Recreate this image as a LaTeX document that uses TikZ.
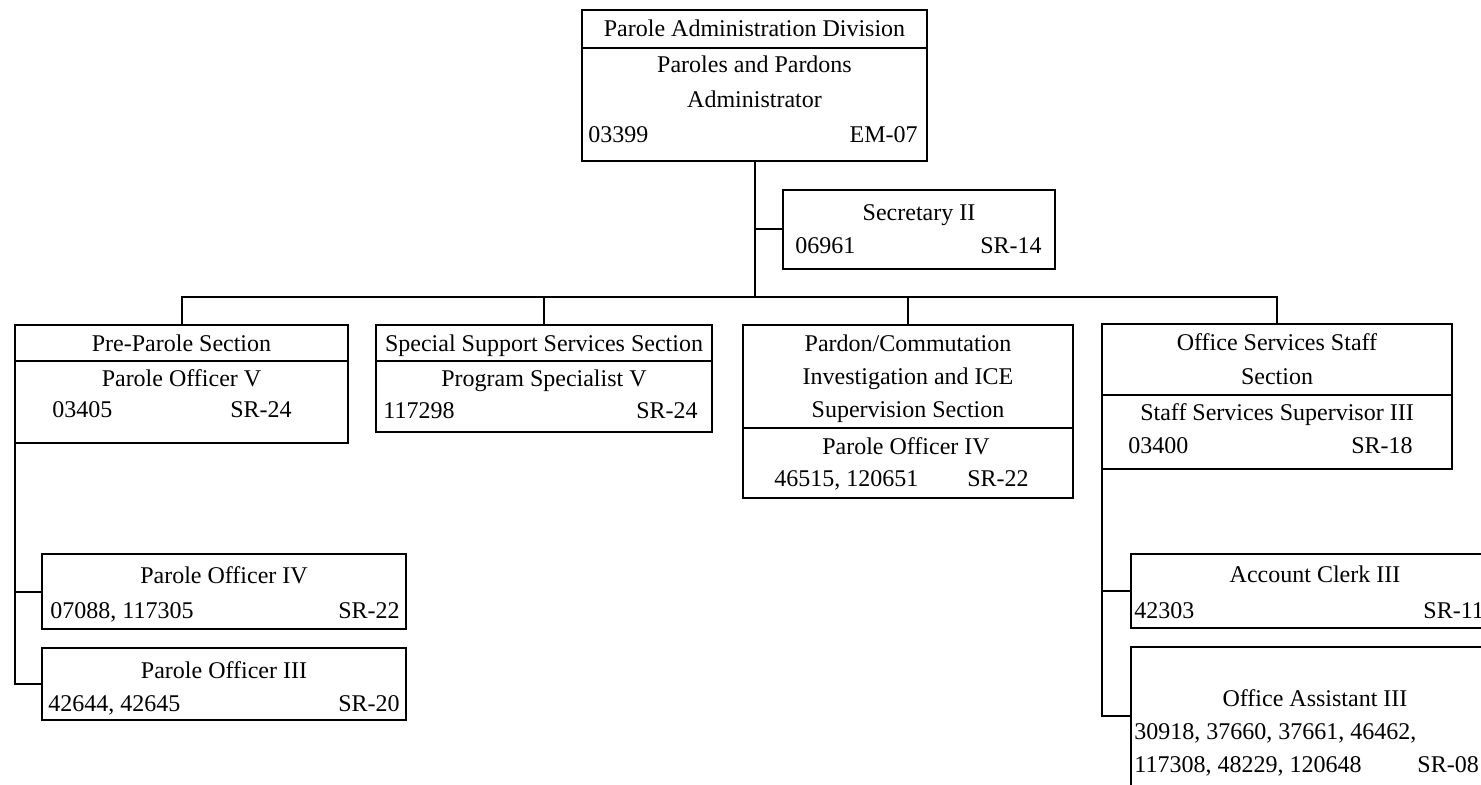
\documentclass[tikz,border=0pt]{standalone}
\usepackage{fontspec}
\setmainfont{Liberation Serif}
\usepackage{tikz}

\tikzset{
  unit/.style={draw, line width=1pt, inner sep=0pt, outer sep=0pt, anchor=north west},
  lbl/.style={inner sep=0pt, text height=8pt, text depth=0pt, font=\fontsize{12}{14}\selectfont},
  conn/.style={line width=1pt},
  rule/.style={line width=0.9pt}
}

\begin{document}
\begin{tikzpicture}[x=0.5pt, y=-0.5pt]
  \useasboundingbox (0,0) rectangle (1481,785);
  \clip (0,0) rectangle (1481,785);

  % boxes
  \node[unit, minimum width=172.5pt, minimum height=75.5pt] (adm) at (582,10) {};
  \node[unit, minimum width=136pt, minimum height=39.5pt] (sec) at (783,190) {};
  \node[unit, minimum width=166.5pt, minimum height=59pt] (pre) at (15,325) {};
  \node[unit, minimum width=168pt, minimum height=53.5pt] (sss) at (376,325) {};
  \node[unit, minimum width=165pt, minimum height=86.5pt] (pci) at (743,325) {};
  \node[unit, minimum width=175pt, minimum height=72.5pt] (oss) at (1102,324) {};
  \node[unit, minimum width=182pt, minimum height=37.5pt] (po4) at (42,554) {};
  \node[unit, minimum width=182pt, minimum height=36pt] (po3) at (42,648) {};
  \node[unit, minimum width=199.5pt, minimum height=37pt] (acc) at (1131,554) {};
  \node[unit, minimum width=199.5pt, minimum height=86.5pt] (oas) at (1131,647) {};

  % section rules
  \draw[rule] (582,48) -- (927,48);
  \draw[rule] (15,361) -- (348,361);
  \draw[rule] (376,361) -- (712,361);
  \draw[rule] (743,428) -- (1073,428);
  \draw[rule] (1102,395) -- (1452,395);

  % texts
  \node[lbl] (adm-head) at (754.5,29) {Parole Administration Division};
  \node[lbl] (adm-t1) at (754.5,65) {Paroles and Pardons};
  \node[lbl] (adm-t2) at (754.5,100) {Administrator};
  \node[lbl, anchor=west] (adm-num) at (588,135) {03399};
  \node[lbl, anchor=east] (adm-gr) at (918,135) {EM-07};

  \node[lbl] (sec-t) at (919,213) {Secretary II};
  \node[lbl, anchor=west] (sec-num) at (795,246) {06961};
  \node[lbl, anchor=east] (sec-gr) at (1042,246) {SR-14};

  \node[lbl] (pre-head) at (181.5,344) {Pre-Parole Section};
  \node[lbl] (pre-t) at (181.5,379) {Parole Officer V};
  \node[lbl, anchor=west] (pre-num) at (52,410) {03405};
  \node[lbl, anchor=east] (pre-gr) at (292,410) {SR-24};

  \node[lbl] (sss-head) at (544,344) {Special Support Services Section};
  \node[lbl] (sss-t) at (544,379) {Program Specialist V};
  \node[lbl, anchor=west] (sss-num) at (383,411) {117298};
  \node[lbl, anchor=east] (sss-gr) at (698,411) {SR-24};

  \node[lbl] (pci-h1) at (908,344) {Pardon/Commutation};
  \node[lbl] (pci-h2) at (908,377) {Investigation and ICE};
  \node[lbl] (pci-h3) at (908,410) {Supervision Section};
  \node[lbl] (pci-t) at (906,446) {Parole Officer IV};
  \node[lbl, anchor=west] (pci-num) at (774,479) {46515, 120651};
  \node[lbl, anchor=east] (pci-gr) at (1029,479) {SR-22};

  \node[lbl] (oss-h1) at (1277,343) {Office Services Staff};
  \node[lbl] (oss-h2) at (1277,377) {Section};
  \node[lbl] (oss-t) at (1277,413) {Staff Services Supervisor III};
  \node[lbl, anchor=west] (oss-num) at (1128,445) {03400};
  \node[lbl, anchor=east] (oss-gr) at (1413,445) {SR-18};

  \node[lbl] (po4-t) at (224,575) {Parole Officer IV};
  \node[lbl, anchor=west] (po4-num) at (50,610) {07088, 117305};
  \node[lbl, anchor=east] (po4-gr) at (400,610) {SR-22};

  \node[lbl] (po3-t) at (224,670) {Parole Officer III};
  \node[lbl, anchor=west] (po3-num) at (48,703) {42644, 42645};
  \node[lbl, anchor=east] (po3-gr) at (400,703) {SR-20};

  \node[lbl] (acc-t) at (1315,574) {Account Clerk III};
  \node[lbl, anchor=west] (acc-num) at (1134,610) {42303};
  \node[lbl, anchor=west] (acc-gr) at (1423,610) {SR-11};

  \node[lbl] (oas-t) at (1315,698) {Office Assistant III};
  \node[lbl, anchor=west] (oas-n1) at (1134,731) {30918, 37660, 37661, 46462,};
  \node[lbl, anchor=west] (oas-n2) at (1134,764) {117308, 48229, 120648};
  \node[lbl, anchor=west] (oas-gr) at (1417,764) {SR-08};

  % connectors
  \coordinate (hub) at (754.5,297);
  \coordinate (oajoin) at (1131,716);
  \draw[conn] (adm.south) -- (hub);
  \draw[conn] (pre.north) |- (hub) -| (oss.north);
  \draw[conn] (sss.north) -- (sss.north |- hub);
  \draw[conn] (pci.north) -- (pci.north |- hub);
  \draw[conn] (sec.west) -- (sec.west -| adm.south);
  \draw[conn] (pre.south west) |- (po3.west);
  \draw[conn] (po4.west) -- (po4.west -| pre.west);
  \draw[conn] (oss.south west) |- (oajoin);
  \draw[conn] (acc.west) -- (acc.west -| oss.west);
\end{tikzpicture}
\end{document}
